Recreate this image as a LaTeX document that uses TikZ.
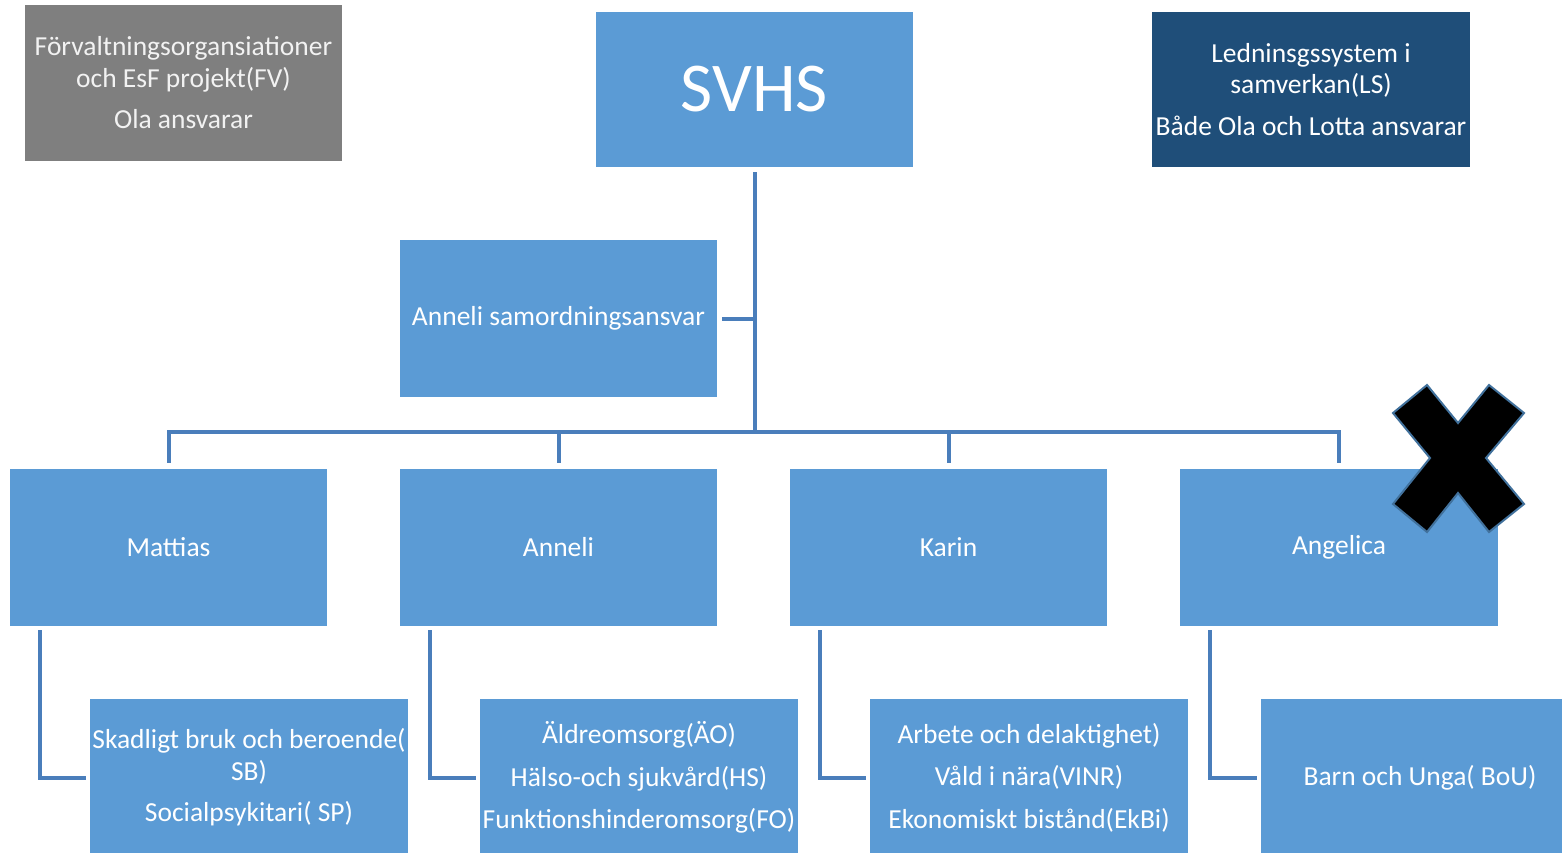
\documentclass[tikz,border=0pt]{standalone}
\usepackage{fontspec}
\setmainfont{Carlito}
\usetikzlibrary{calc}
\definecolor{boxblue}{HTML}{5B9BD5}
\definecolor{lineblue}{HTML}{4A7EBB}
\definecolor{boxgray}{HTML}{7F7F7F}
\definecolor{navy}{HTML}{1F4E79}
\definecolor{xedge}{HTML}{41719C}
\definecolor{lighttext}{HTML}{F2F2F2}
\tikzset{
  box/.style={fill=boxblue, draw=none, minimum width=317pt, minimum height=157pt, inner sep=0pt,
    text=white, align=center, font=\fontsize{27.5}{31.5}\selectfont},
  graybox/.style={box, fill=boxgray, text=lighttext},
  navybox/.style={box, fill=navy},
  conn/.style={draw=lineblue, line width=4pt, line join=miter},
}
\begin{document}
\begin{tikzpicture}[x=1pt, y=-1pt]
\useasboundingbox (0,0) rectangle (1562,852);
\fill[white] (0,0) rectangle (1562,852);
\clip (0,0) rectangle (1562,852);

% top row
\node[graybox, minimum height=156pt] (fv) at (183.5,83) {F\"orvaltningsorgansiationer\\och EsF projekt(FV)\\[10pt]Ola ansvarar};
\node[box, minimum height=155pt, font=\fontsize{70}{80}\selectfont] (svhs) at (754.5,89.5) {SVHS};
\node[navybox, minimum height=155pt, minimum width=318pt] (ls) at (1311,89.5) {Ledninsgssystem i\\samverkan(LS)\\[10pt]B\aa de Ola och Lotta ansvarar};

% assistant
\node[box] (samord) at (558.5,318.5) {Anneli samordningsansvar};

% second row
\node[box] (mattias) at (168.5,547.5) {Mattias};
\node[box] (anneli) at (558.5,547.5) {Anneli};
\node[box] (karin) at (948.5,547.5) {Karin};
\node[box, minimum width=318pt] (angelica) at (1339,547.5) {Angelica};

% bottom row
\node[box, minimum width=318pt] (sb) at (249,777.5) {Skadligt bruk och beroende(\\SB)\\[10pt]Socialpsykitari( SP)};
\node[box, minimum width=318pt] (ao) at (639,777.5) {\"Aldreomsorg(\"AO)\\[11pt]H\"also-och sjukv\aa rd(HS)\\[11pt]Funktionshinderomsorg(FO)};
\node[box, minimum width=318pt] (arb) at (1029,777.5) {Arbete och delaktighet)\\[11pt]V\aa ld i n\"ara(VINR)\\[11pt]Ekonomiskt bist\aa nd(EkBi)};
\node[box, minimum width=318pt] (bou) at (1420,777.5) {Barn och Unga( BoU)};

% connectors
\coordinate (bus) at (754,432);
\draw[conn] ($(svhs.south)+(0,5)$) -- (svhs.south |- bus);
\draw[conn] ($(mattias.north)+(0,-6)$) -- (mattias.north |- bus) -- (angelica.north |- bus) -- ($(angelica.north)+(0,-6)$);
\draw[conn] ($(anneli.north)+(0,-6)$) -- (anneli.north |- bus);
\draw[conn] ($(karin.north)+(0,-6)$) -- (karin.north |- bus);
\draw[conn] ($(samord.east)+(5,0)$) -- (samord.east -| svhs.south);

\draw[conn] ($(mattias.south west)+(30,4)$) |- ($(sb.west)+(-4,0)$);
\draw[conn] ($(anneli.south west)+(30,4)$) |- ($(ao.west)+(-4,0)$);
\draw[conn] ($(karin.south west)+(30,4)$) |- ($(arb.west)+(-4,0)$);
\draw[conn] ($(angelica.south west)+(30,4)$) |- ($(bou.west)+(-4,0)$);

% cross mark
\draw[fill=black, draw=xedge, line width=2pt, line join=miter]
  (1427,385) -- (1458,423) -- (1489,385) -- (1524,413) -- (1486,458) -- (1524,504)
  -- (1489,532) -- (1458,493) -- (1427,532) -- (1393,504) -- (1430,458) -- (1393,413) -- cycle;
\end{tikzpicture}
\end{document}
